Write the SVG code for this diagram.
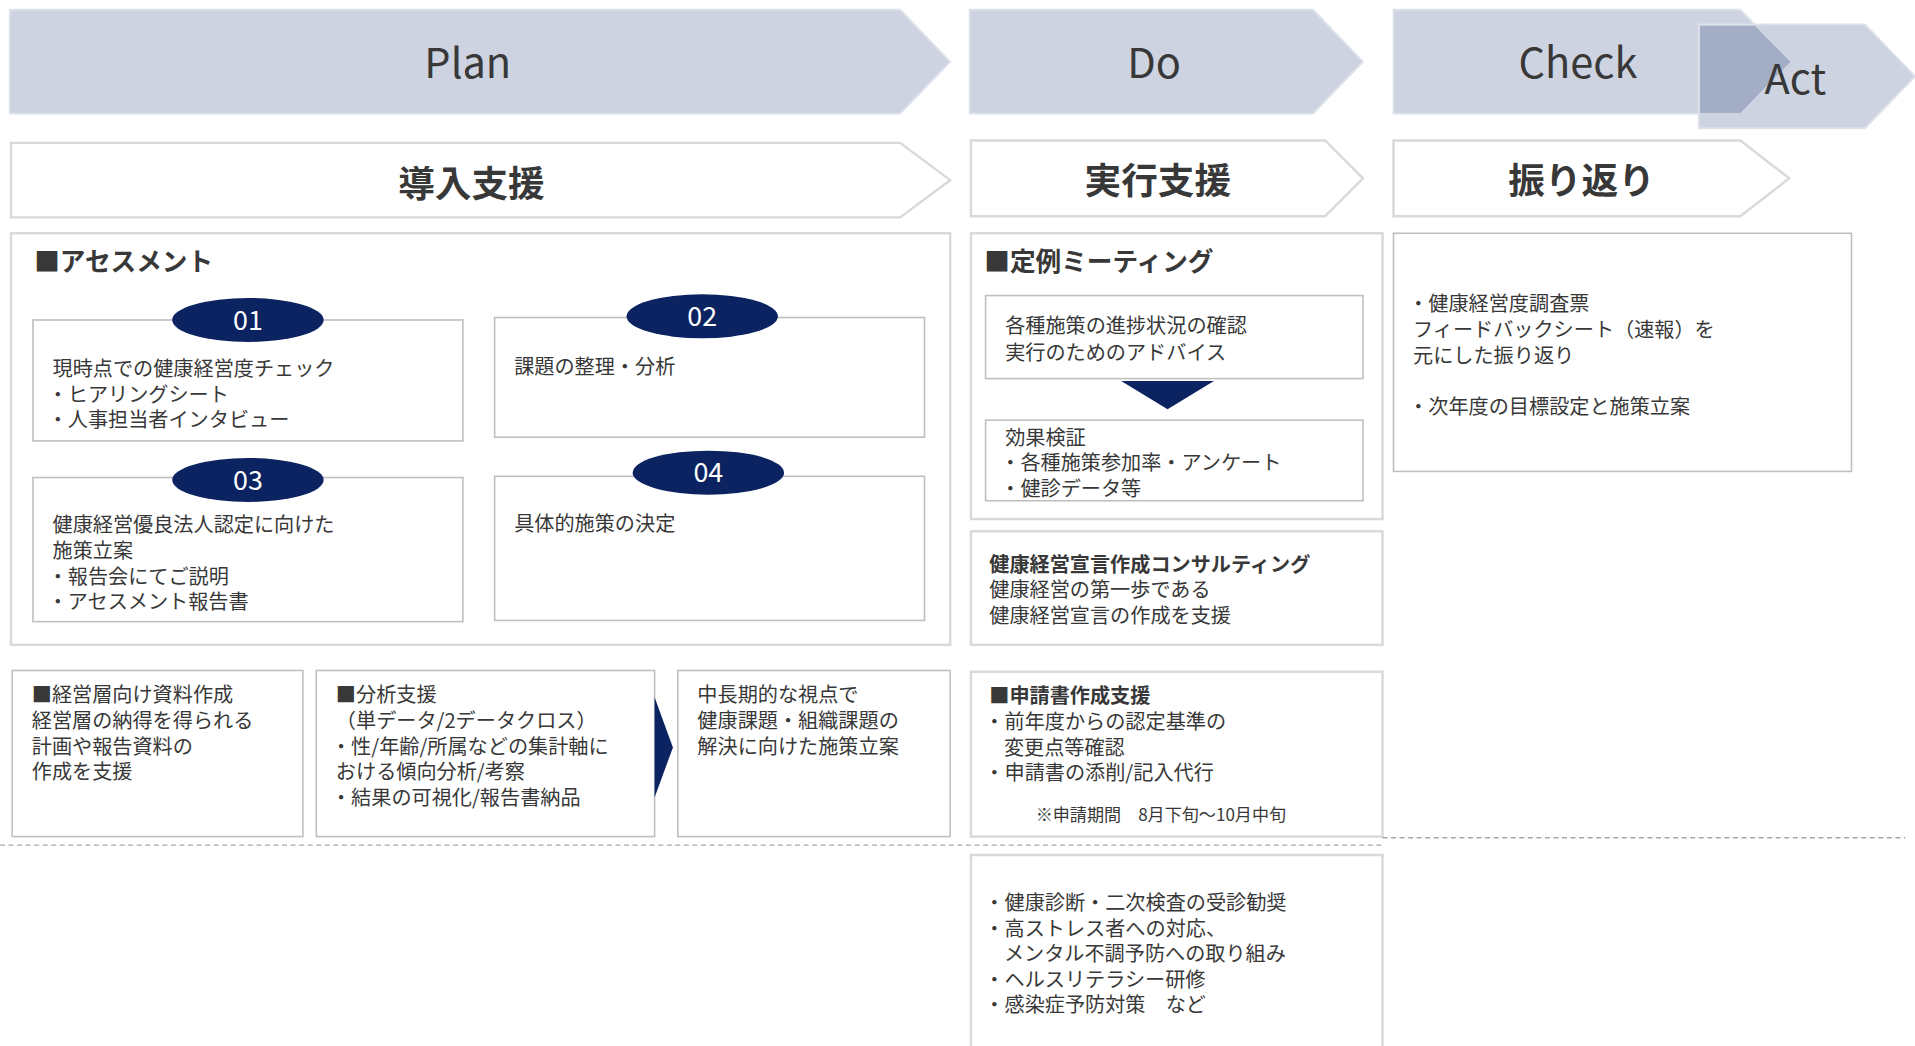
<svg xmlns="http://www.w3.org/2000/svg" width="1915" height="1046" viewBox="0 0 1915 1046">
<style>
text{font-family:"Noto Sans CJK JP","Noto Sans",sans-serif;fill:#383838;}
.phase{fill:#cdd3e0;stroke:#dde1e9;stroke-width:1.5;}
.sub{fill:#ffffff;stroke:#d9d9d9;stroke-width:2;}
.frame{fill:#ffffff;stroke:#d9d9d9;stroke-width:2;}
.box{fill:#ffffff;stroke:#bfbfbf;stroke-width:1.3;}
.navy{fill:#0b2461;}
.ph{font-size:34px;text-anchor:middle;}
.sh{font-size:30px;font-weight:700;text-anchor:middle;}
.hd{font-size:21px;font-weight:700;}
.t{font-size:16.5px;}
.b{font-size:16.5px;font-weight:700;}
.s{font-size:14px;}
.num{font-size:22px;fill:#ffffff;text-anchor:middle;}
.dash{stroke:#a6a6a6;stroke-width:1.2;stroke-dasharray:4 3;fill:none;}
</style>
<rect width="1915" height="1046" fill="#ffffff"/>
<g transform="scale(1.2213)">
<g id="phase-plan"><polygon class="phase" points="8,8 737,8 778,50.5 737,93 8,93"/><text class="ph" x="383" y="64">Plan</text></g>
<g id="phase-do"><polygon class="phase" points="794,8 1075,8 1116,50.5 1075,93 794,93"/><text class="ph" x="945" y="64">Do</text></g>
<g id="phase-check"><polygon class="phase" points="1141,8 1425,8 1466,50.5 1425,93 1141,93"/><text class="ph" x="1292" y="64">Check</text></g>
<g id="phase-act"><polygon class="phase" points="1391,20 1527,20 1568,62.5 1527,105 1391,105"/><polygon fill="#a3adc6" points="1392,21 1436.7,21 1466,50.5 1425,92.5 1392,92.5"/><text class="ph" x="1470" y="77">Act</text></g>

<g id="sub-plan"><polygon class="sub" points="9,117 737,117 778,147.5 737,178 9,178"/><text class="sh" x="386" y="161">導入支援</text></g>
<g id="sub-do"><polygon class="sub" points="795,115 1085,115 1116,146 1085,177 795,177"/><text class="sh" x="948" y="159">実行支援</text></g>
<g id="sub-check"><polygon class="sub" points="1141,115 1425,115 1465,146 1425,177 1141,177"/><text class="sh" x="1295" y="159">振り返り</text></g>

<g id="assessment"><rect class="frame" x="9" y="191" width="769" height="337"/><text class="hd" x="28" y="222">■アセスメント</text></g>
<g id="step01"><rect class="box" x="27" y="262" width="352" height="99"/><ellipse class="navy" cx="203" cy="262" rx="62" ry="18"/><text class="num" x="203" y="270">01</text>
<text class="t" x="43" y="308">現時点での健康経営度チェック</text><text class="t" x="39" y="329">・ヒアリングシート</text><text class="t" x="39" y="350">・人事担当者インタビュー</text></g>
<g id="step02"><rect class="box" x="405" y="260" width="352" height="98"/><ellipse class="navy" cx="575" cy="259" rx="62" ry="18"/><text class="num" x="575" y="267">02</text>
<text class="t" x="421" y="306">課題の整理・分析</text></g>
<g id="step03"><rect class="box" x="27" y="391" width="352" height="118"/><ellipse class="navy" cx="203" cy="393" rx="62" ry="18"/><text class="num" x="203" y="401">03</text>
<text class="t" x="43" y="436">健康経営優良法人認定に向けた</text><text class="t" x="43" y="457">施策立案</text><text class="t" x="39" y="478">・報告会にてご説明</text><text class="t" x="39" y="499">・アセスメント報告書</text></g>
<g id="step04"><rect class="box" x="405" y="390" width="352" height="118"/><ellipse class="navy" cx="580" cy="387" rx="62" ry="18"/><text class="num" x="580" y="395">04</text>
<text class="t" x="421" y="435">具体的施策の決定</text></g>

<g id="meeting"><rect class="frame" x="795" y="191" width="337" height="234"/><text class="hd" x="806" y="222">■定例ミーティング</text>
<rect class="box" x="807" y="242" width="309" height="68"/><text class="t" x="823" y="273">各種施策の進捗状況の確認</text><text class="t" x="823" y="294.5">実行のためのアドバイス</text>
<polygon class="navy" points="918,312 994,312 956,335"/>
<rect class="box" x="807" y="344" width="309" height="66"/><text class="t" x="823" y="364">効果検証</text><text class="t" x="819" y="385">・各種施策参加率・アンケート</text><text class="t" x="819" y="406">・健診データ等</text></g>

<g id="declaration"><rect class="frame" x="795" y="435" width="337" height="93"/><text class="b" x="810" y="468">健康経営宣言作成コンサルティング</text><text class="t" x="810" y="489">健康経営の第一歩である</text><text class="t" x="810" y="510">健康経営宣言の作成を支援</text></g>

<g id="review"><rect class="box" x="1141" y="191" width="375" height="195"/><text class="t" x="1153" y="255">・健康経営度調査票</text><text class="t" x="1157" y="276">フィードバックシート（速報）を</text><text class="t" x="1157" y="297">元にした振り返り</text><text class="t" x="1153" y="339">・次年度の目標設定と施策立案</text></g>

<g id="exec-material"><rect class="box" x="10" y="549" width="238" height="136"/><text class="t" x="26" y="575">■経営層向け資料作成</text><text class="t" x="26" y="596">経営層の納得を得られる</text><text class="t" x="26" y="617">計画や報告資料の</text><text class="t" x="26" y="638">作成を支援</text></g>
<g id="analysis"><rect class="box" x="259" y="549" width="277" height="136"/><text class="t" x="275" y="575">■分析支援</text><text class="t" x="275" y="596">（単データ/2データクロス）</text><text class="t" x="271" y="617">・性/年齢/所属などの集計軸に</text><text class="t" x="275" y="638">おける傾向分析/考察</text><text class="t" x="271" y="659">・結果の可視化/報告書納品</text></g>
<g id="planning"><rect class="box" x="555" y="549" width="223" height="136"/><text class="t" x="571" y="575">中長期的な視点で</text><text class="t" x="571" y="596">健康課題・組織課題の</text><text class="t" x="571" y="617">解決に向けた施策立案</text></g>

<g id="application"><rect class="frame" x="795" y="550" width="337" height="135"/><text class="b" x="810" y="576">■申請書作成支援</text><text class="t" x="806" y="597">・前年度からの認定基準の</text><text class="t" x="822" y="618">変更点等確認</text><text class="t" x="806" y="639">・申請書の添削/記入代行</text><text class="s" x="848" y="672">※申請期間　8月下旬～10月中旬</text></g>

<g id="health"><path class="frame" d="M795,860 L795,700 L1132,700 L1132,860"/><text class="t" x="806" y="745">・健康診断・二次検査の受診勧奨</text><text class="t" x="806" y="766">・高ストレス者への対応、</text><text class="t" x="822" y="787">メンタル不調予防への取り組み</text><text class="t" x="806" y="808">・ヘルスリテラシー研修</text><text class="t" x="806" y="829">・感染症予防対策　など</text></g>

<g id="connectors">
<polygon class="navy" points="536,571 551,612 536,653"/>
<line class="dash" x1="0" y1="692" x2="1132" y2="692"/>
<line class="dash" x1="1132" y1="686" x2="1560" y2="686"/>
</g>
</g>
</svg>
